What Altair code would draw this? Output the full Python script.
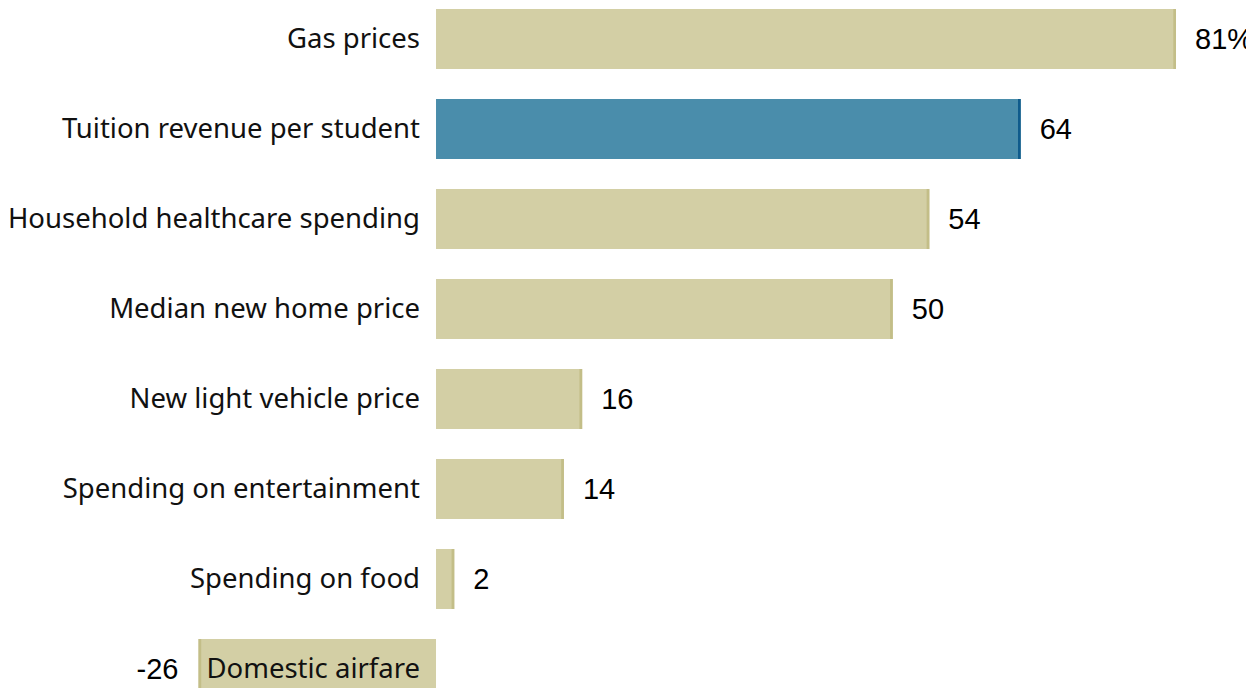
import altair as alt
import pandas as pd

categories = ["Gas prices", "Tuition revenue per student", "Household healthcare spending",
              "Median new home price", "New light vehicle price", "Spending on entertainment",
              "Spending on food", "Domestic airfare"]
values = [81, 64, 54, 50, 16, 14, 2, -26]
value_labels = ["81%", "64", "54", "50", "16", "14", "2", "-26"]
highlight = [False, True, False, False, False, False, False, False]

df = pd.DataFrame({
    "category": categories,
    "value": values,
    "vlabel": value_labels,
    "hl": highlight,
    "row": list(range(len(categories))),
})

W, H = 1238, 680
x_scale = alt.Scale(domain=[-46.85, 88.66], nice=False, zero=False)
y_scale = alt.Scale(domain=[-0.3444, 7.2111], nice=False, zero=False, reverse=True)

base = alt.Chart(df).transform_calculate(
    y0="datum.row - 1/3",
    y1="datum.row + 1/3",
    edge="datum.value >= 0 ? datum.value - 0.3 : datum.value + 0.3",
    zero="0",
)

bars = base.mark_rect().encode(
    x=alt.X("value:Q", scale=x_scale, axis=None),
    x2="zero:Q",
    y=alt.Y("y0:Q", scale=y_scale, axis=None),
    y2="y1:Q",
    color=alt.condition("datum.hl", alt.value("#4a8dab"), alt.value("#d3cfa5")),
)

edges = base.mark_rect().encode(
    x=alt.X("value:Q", scale=x_scale, axis=None),
    x2="edge:Q",
    y=alt.Y("y0:Q", scale=y_scale, axis=None),
    y2="y1:Q",
    color=alt.condition("datum.hl", alt.value("#0f5b8c"), alt.value("#c3be88")),
)

cat_pos = base.transform_filter("datum.value >= 0").mark_text(
    align="right", baseline="middle", dx=-16, dy=1, font="Noto Sans", fontSize=27.5, color="#111111"
).encode(
    x=alt.X("zero:Q", scale=x_scale, axis=None),
    y=alt.Y("row:Q", scale=y_scale, axis=None),
    text="category:N",
)

cat_neg = base.transform_filter("datum.value < 0").mark_text(
    align="left", baseline="middle", dx=8, dy=1, font="Noto Sans", fontSize=27.5, color="#111111"
).encode(
    x=alt.X("value:Q", scale=x_scale, axis=None),
    y=alt.Y("row:Q", scale=y_scale, axis=None),
    text="category:N",
)

val_pos = base.transform_filter("datum.value >= 0").mark_text(
    align="left", baseline="middle", dx=19, dy=1, font="Liberation Sans", fontSize=29, color="#000000"
).encode(
    x=alt.X("value:Q", scale=x_scale, axis=None),
    y=alt.Y("row:Q", scale=y_scale, axis=None),
    text="vlabel:N",
)

val_neg = base.transform_filter("datum.value < 0").mark_text(
    align="right", baseline="middle", dx=-20, dy=1, font="Liberation Sans", fontSize=29, color="#000000"
).encode(
    x=alt.X("value:Q", scale=x_scale, axis=None),
    y=alt.Y("row:Q", scale=y_scale, axis=None),
    text="vlabel:N",
)

chart = alt.layer(bars, edges, cat_pos, cat_neg, val_pos, val_neg).properties(
    width=W, height=H, autosize=alt.AutoSizeParams(type="none"), padding=0
).configure_view(stroke=None)

chart.save("out.html", embed_options={"renderer": "svg", "actions": False})
